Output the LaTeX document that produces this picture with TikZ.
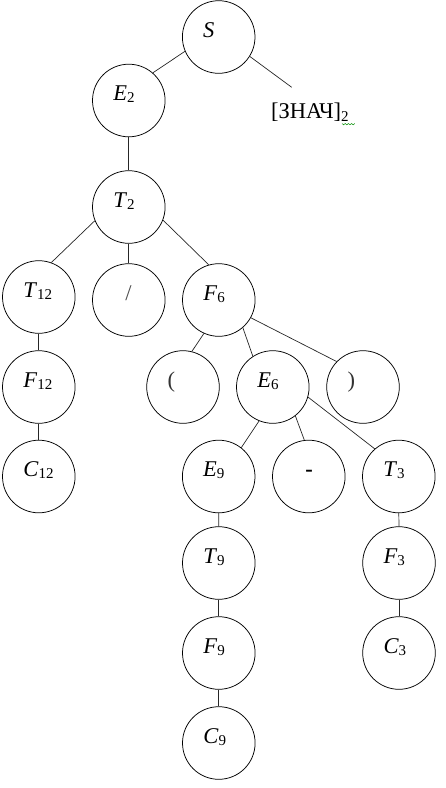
\documentclass[tikz,border=0pt]{standalone}
\usepackage{fontspec}
\setmainfont{Liberation Serif}
\newcommand\sbs[1]{{\fontsize{15}{15}\selectfont\raisebox{-2pt}{#1}}}
\newcommand\lbl[2]{\node[lab] (#1-l) at ([xshift=21pt]#1.west) {#2};}
\begin{document}
\begin{tikzpicture}[x=1pt,y=-1pt,
  circ/.style={draw, circle, minimum size=72.6pt, inner sep=0pt, line width=0.75pt},
  lab/.style={anchor=base west, inner sep=0pt, font=\fontsize{22.5}{22.5}\selectfont},
  edge/.style={line width=0.7pt, draw=black!85}]
\useasboundingbox (0,0) rectangle (445,788);
% circles
\node[circ] (S) at (218.7,37) {};
\node[circ] (E2) at (128.8,100.5) {};
\node[circ] (T2) at (128.8,207) {};
\node[circ] (T12) at (38.8,297) {};
\node[circ] (slash) at (128.8,300) {};
\node[circ] (F6) at (218.8,300) {};
\node[circ] (F12) at (38.8,387) {};
\node[circ] (lp) at (183,387) {};
\node[circ] (E6) at (272.8,387) {};
\node[circ] (rp) at (363,387) {};
\node[circ] (C12) at (38.8,476.5) {};
\node[circ] (E9) at (218.7,476.5) {};
\node[circ] (minus) at (308.8,476.5) {};
\node[circ] (T3) at (398.8,476.5) {};
\node[circ] (T9) at (218.8,563) {};
\node[circ] (F3) at (399,563) {};
\node[circ] (F9) at (218.8,653) {};
\node[circ] (C3) at (399,653) {};
\node[circ] (C9) at (218.8,743) {};
% labels
\lbl{S}{\textit{S}}
\lbl{E2}{\textit{E}\sbs{2}}
\lbl{T2}{\textit{T}\sbs{2}}
\lbl{T12}{\textit{T}\sbs{12}}
\node[lab, anchor=base, text=black!70] (slash-l) at ([xshift=-0.3pt]slash.center) {/};
\lbl{F6}{\textit{F}\sbs{6}}
\lbl{F12}{\textit{F}\sbs{12}}
\lbl{lp}{\textcolor{black!80}{(}}
\lbl{E6}{\textit{E}\sbs{6}}
\lbl{rp}{\textcolor{black!80}{)}}
\lbl{C12}{\textit{C}\sbs{12}}
\lbl{E9}{\textit{E}\sbs{9}}
\node[lab] (minus-l) at ([xshift=33pt]minus.west) {\textbf{-}};
\lbl{T3}{\textit{T}\sbs{3}}
\lbl{T9}{\textit{T}\sbs{9}}
\lbl{F3}{\textit{F}\sbs{3}}
\lbl{F9}{\textit{F}\sbs{9}}
\lbl{C3}{\textit{C}\sbs{3}}
\lbl{C9}{\textit{C}\sbs{9}}
% value label
\node[lab] (znach) at (271,118) {[ЗНАЧ]{\fontsize{15}{15}\selectfont\raisebox{-3pt}{2}}};
\coordinate (zn-top) at (291.7,87.3);
\draw[green!55!black, line width=0.5pt] (342,123.5) -- (343.6,124.8) -- (345.2,123.5) -- (346.8,124.8) -- (348.4,123.5) -- (350,124.8) -- (351.6,123.5) -- (353.2,124.8) -- (354.8,123.5);
% edges
\draw[edge] (S.203) -- (E2.49);
\draw[edge] (S.328) -- (zn-top);
\draw[edge] (E2.south) -- (T2.north);
\draw[edge] (T2.202) -- (T12.70);
\draw[edge] (T2.south) -- (slash.north);
\draw[edge] (T2.339) -- (F6.106);
\draw[edge] (T12.south) -- (F12.north);
\draw[edge] (F12.south) -- (C12.north);
\draw[edge] (F6.246) -- (lp.76);
\draw[edge] (F6.311) -- (E6.123);
\draw[edge] (F6.331) -- (rp.136);
\draw[edge] (E6.248) -- (E9.52);
\draw[edge] (E6.308) -- (minus.97);
\draw[edge] (E6.344) -- (T3.131);
\draw[edge] (E9.south) -- (T9.north);
\draw[edge] (T9.south) -- (F9.north);
\draw[edge] (F9.south) -- (C9.north);
\draw[edge] (T3.south) -- (F3.north);
\draw[edge] (F3.south) -- (C3.north);
\end{tikzpicture}
\end{document}
